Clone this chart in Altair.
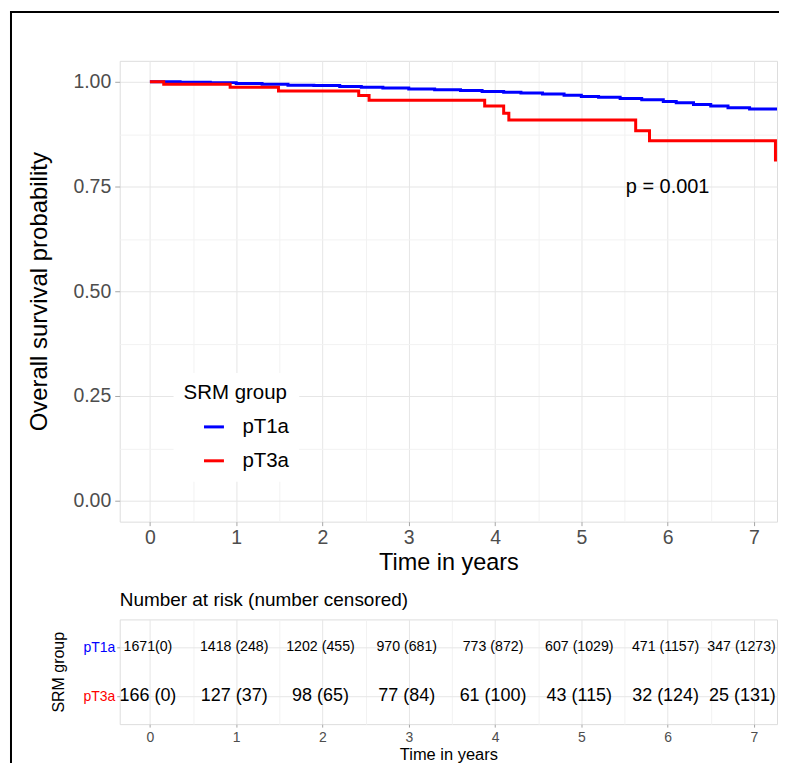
import altair as alt
import pandas as pd

FONT = "Liberation Sans"

# ---- Kaplan-Meier step data ----
groups = ["pT1a", "pT3a"]
colors = ["#0000FF", "#FF0000"]

pt1a_time = [0, 0.35, 0.7, 1.0, 1.3, 1.6, 1.9, 2.2, 2.45, 2.7, 3.0, 3.3, 3.6, 3.85,
             4.1, 4.3, 4.55, 4.8, 5.0, 5.2, 5.45, 5.7, 5.95, 6.1, 6.3, 6.5, 6.7, 6.95, 7.34]
pt1a_surv = [1.0, 0.999, 0.998, 0.996, 0.994, 0.992, 0.991, 0.989, 0.987, 0.985, 0.983,
             0.981, 0.979, 0.977, 0.975, 0.973, 0.971, 0.968, 0.965, 0.963, 0.960, 0.957,
             0.953, 0.950, 0.946, 0.942, 0.938, 0.935, 0.935]

pt3a_time = [0, 0.16, 0.93, 1.49, 2.42, 2.54, 3.88, 4.10, 4.16, 5.63, 5.79, 7.25]
pt3a_surv = [1.0, 0.994, 0.987, 0.978, 0.967, 0.956, 0.942, 0.925, 0.909, 0.883, 0.859, 0.81]

p_label = ["p = 0.001"]
p_pos_time = [6.0]
p_pos_surv = [0.75]

# ---- risk table ----
risk_times = [0, 1, 2, 3, 4, 5, 6, 7]
pt1a_risk = ["1671(0)", "1418 (248)", "1202 (455)", "970 (681)", "773 (872)",
             "607 (1029)", "471 (1157)", "347 (1273)"]
pt3a_risk = ["166 (0)", "127  (37)", "98 (65)", "77 (84)", "61 (100)",
             "43 (115)", "32 (124)", "25 (131)"]

x_ticks = [0, 0.5, 1, 1.5, 2, 2.5, 3, 3.5, 4, 4.5, 5, 5.5, 6, 6.5, 7]
y_ticks = [0, 0.125, 0.25, 0.375, 0.5, 0.625, 0.75, 0.875, 1.0]

km_df = pd.concat([
    pd.DataFrame({"time": pt1a_time, "surv": pt1a_surv, "group": groups[0]}),
    pd.DataFrame({"time": pt3a_time, "surv": pt3a_surv, "group": groups[1]}),
], ignore_index=True)
p_df = pd.DataFrame({"time": p_pos_time, "surv": p_pos_surv, "label": p_label})
risk_df = pd.concat([
    pd.DataFrame({"time": risk_times, "label": pt1a_risk, "row": groups[0]}),
    pd.DataFrame({"time": risk_times, "label": pt3a_risk, "row": groups[1]}),
], ignore_index=True)
one = pd.DataFrame({"a": [0]})

GRID_MAJOR = "#E6E6E6"
GRID_MINOR = "#F2F2F2"
TICK = "#A6A6A6"
LABEL = "#4D4D4D"

W = 659
x_dom = [-0.35, 7.268]
y_dom = [-0.05, 1.05]

def x_axis(title, label_size, title_size, title_pad, label_pad, tick_size):
    return alt.Axis(
        values=x_ticks,
        format=".0f",
        labelExpr="datum.value % 1 == 0 ? datum.label : ''",
        tickOpacity={"condition": {"test": "datum.value % 1 == 0", "value": 1}, "value": 0},
        gridColor={"condition": {"test": "datum.value % 1 == 0", "value": GRID_MAJOR}, "value": GRID_MINOR},
        grid=True,
        domain=False,
        tickColor=TICK,
        tickSize=tick_size,
        labelColor=LABEL,
        labelFontSize=label_size,
        labelPadding=label_pad,
        labelFont=FONT,
        title=title,
        titleFont=FONT,
        titleFontSize=title_size,
        titleFontWeight="normal",
        titleColor="black",
        titlePadding=title_pad,
    )

lines = alt.Chart(km_df).mark_line(interpolate="step-after", strokeWidth=3, clip=True).encode(
    x=alt.X("time:Q", scale=alt.Scale(domain=x_dom, nice=False, zero=False),
            axis=x_axis("Time in years", 19.5, 23.5, 3, 3, 4)),
    y=alt.Y("surv:Q", scale=alt.Scale(domain=y_dom, nice=False, zero=False),
            axis=alt.Axis(
                values=y_ticks,
                format=".2f",
                labelExpr="(datum.value * 4) % 1 == 0 ? datum.label : ''",
                tickOpacity={"condition": {"test": "(datum.value * 4) % 1 == 0", "value": 1}, "value": 0},
                gridColor={"condition": {"test": "(datum.value * 4) % 1 == 0", "value": GRID_MAJOR}, "value": GRID_MINOR},
                grid=True,
                domain=False,
                tickColor=TICK,
                tickSize=5,
                labelColor=LABEL,
                labelFontSize=19.5,
                labelPadding=4,
                labelFont=FONT,
                title="Overall survival probability",
                titleFont=FONT,
                titleFontSize=24,
                titleFontWeight="normal",
                titleColor="black",
                titlePadding=21,
            )),
    color=alt.Color("group:N", scale=alt.Scale(domain=groups, range=colors),
                    legend=alt.Legend(
                        title="SRM group", orient="none", legendX=54, legendY=313,
                        padding=10, fillColor="white",
                        titleFont=FONT, titleFontSize=20.5, titleFontWeight="normal",
                        titleColor="black", titlePadding=12,
                        labelFont=FONT, labelFontSize=20.5, labelColor="black",
                        symbolType="stroke", symbolStrokeWidth=3, symbolSize=400,
                        symbolOffset=19, labelOffset=17, rowPadding=12)),
)

ptext = alt.Chart(p_df).mark_text(font=FONT, fontSize=20, color="black").encode(
    x="time:Q", y="surv:Q", text="label:N")

frame_top = alt.Chart(one).mark_rule(color="black", strokeWidth=2).encode(
    x=alt.value(-110), x2=alt.value(661), y=alt.value(-49))
frame_left = alt.Chart(one).mark_rule(color="black", strokeWidth=2).encode(
    x=alt.value(-109), y=alt.value(-50), y2=alt.value(704))

top = alt.layer(frame_top, frame_left, lines, ptext).properties(width=W, height=462)

risk_x = alt.X("time:Q", scale=alt.Scale(domain=x_dom, nice=False, zero=False),
               axis=x_axis("Time in years", 14, 16.5, 2, 3, 3))
risk_y = alt.Y("row:N", scale=alt.Scale(type="point", domain=groups, padding=0.57),
               axis=alt.Axis(
                   grid=True, gridColor=GRID_MAJOR, domain=False,
                   tickColor=TICK, tickSize=3, labelPadding=2,
                   labelFont=FONT, labelFontSize=14,
                   labelColor={"condition": {"test": "datum.value == 'pT1a'", "value": colors[0]}, "value": colors[1]},
                   title="SRM group", titleFont=FONT, titleFontSize=16,
                   titleFontWeight="normal", titleColor="black", titlePadding=16))
risk_size = alt.Size("row:N", scale=alt.Scale(domain=groups, range=[14.2, 18]), legend=None)

risk_mid = alt.Chart(risk_df).transform_filter("datum.time < 7").mark_text(
    font=FONT, color="black", dx=-2).encode(
    x=risk_x, y=risk_y, text="label:N", size=risk_size)
risk_last = alt.Chart(risk_df).transform_filter("datum.time >= 7").mark_text(
    font=FONT, color="black", align="right", dx=22).encode(
    x=risk_x, y=risk_y, text="label:N", size=risk_size)

risk = alt.layer(risk_mid, risk_last).properties(
    width=W, height=105,
    title=alt.TitleParams("Number at risk (number censored)", anchor="start", frame="group",
                          font=FONT, fontSize=19, fontWeight="normal", color="black", offset=9),
)

chart = alt.vconcat(top, risk, spacing=98, bounds="flush").resolve_scale(
    size="independent", color="independent"
).resolve_legend(size="independent", color="independent").properties(
    padding=0, background="white"
).configure_view(stroke="#C4C4C4", strokeWidth=1).configure(font=FONT)

chart.save("out.html", embed_options={"renderer": "svg", "actions": False})
